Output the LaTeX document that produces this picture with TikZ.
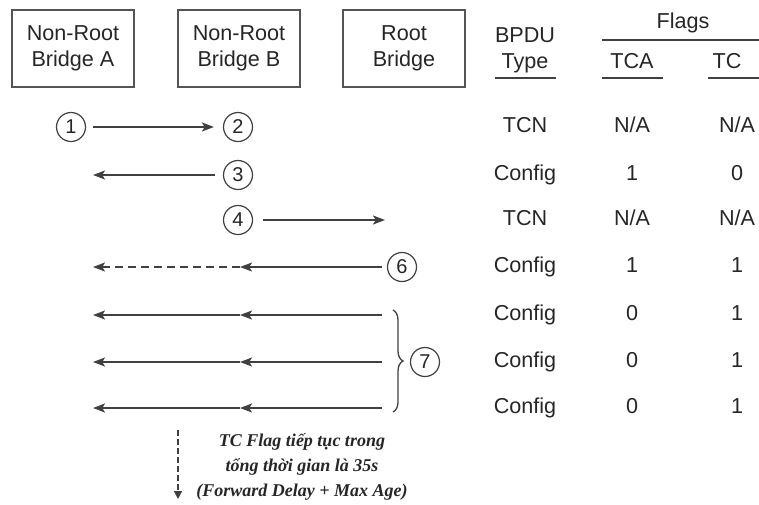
\documentclass[tikz,border=0pt]{standalone}
\usepackage{fontspec}
\setmainfont{Liberation Sans}
\newfontfamily\notefont{Liberation Serif}
\usepackage{tikz}
\usetikzlibrary{arrows.meta,positioning,calc,decorations.pathreplacing}
\definecolor{stpdark}{HTML}{262626}
\definecolor{stpline}{HTML}{404040}
\definecolor{stpbox}{HTML}{555555}

\begin{document}
\begin{tikzpicture}[x=0.5pt, y=-0.5pt,
  bBox/.style  ={rectangle, draw=stpbox, line width=0.75pt, minimum width=61pt, minimum height=38.5pt, inner sep=0pt, align=center, font=\fontsize{10.8}{13}\selectfont, text=stpdark},
  hText/.style ={font=\fontsize{10.8}{13}\selectfont, text=stpdark, inner sep=0pt, anchor=mid},
  hRule/.style ={stpline, line width=0.75pt},
  mNum/.style  ={circle, draw=stpline, line width=0.6pt, minimum size=14.5pt, inner sep=0pt, font=\fontsize{10}{12}\selectfont, text=stpdark},
  mArrow/.style={stpline, line width=0.9pt, -{Stealth[length=6pt, width=4.5pt, inset=1.4pt]}},
  mDash/.style ={mArrow, dash pattern=on 4pt off 2.5pt},
]
% picture measured in pixels of the 759x504 frame
\useasboundingbox (0,0) rectangle (759,504);

% bridges
\node[bBox] (brA) at (73,48.5)  {Non-Root\\Bridge A};
\node[bBox] (brB) at (239,48.5) {Non-Root\\Bridge B};
\node[bBox] (brR) at (404,48.5) {Root\\Bridge};

% table header
\node[hText] (bpdu)  at (525,37) {BPDU};
\node[hText] (type)  at (525,63) {Type};
\node[hText] (flags) at (683,23) {Flags};
\node[hText] (tcaH)  at (632,63) {TCA};
\node[hText] (tcH)   at (727,63) {TC};
\draw[hRule] (495,78) -- (556,78);
\draw[hRule] (602,40) -- (759,40);
\draw[hRule] (602,78) -- (663,78);
\draw[hRule] (708,78) -- (759,78);

% table rows: type, TCA, TC
\foreach \r/\y/\ty/\ca/\tc in {1/127/TCN/{N/A}/{N/A}, 2/175/Config/1/0, 3/220/TCN/{N/A}/{N/A},
  4/267/Config/1/1, 5/315/Config/0/1, 6/362/Config/0/1, 7/408/Config/0/1} {
  \node[hText] (ty\r) at (525,\y) {\ty};
  \node[hText] (ca\r) at (632,\y) {\ca};
  \node[hText] (tc\r) at (737,\y) {\tc};
}

% step numbers
\node[mNum] (n1) at (71,127)  {1};
\node[mNum] (n2) at (238,127) {2};
\node[mNum] (n3) at (238,175) {3};
\node[mNum] (n4) at (238,220) {4};
\node[mNum] (n6) at (402,267) {6};
\node[mNum] (n7) at (425,362) {7};

% free ends of the messages
\coordinate (l3) at (93,175);
\coordinate (r4) at (385,220);
\coordinate (m6) at (240,267);
\coordinate (l6) at (93,267);

\draw[mArrow, shorten <=3.5pt, shorten >=4.5pt] (n1) -- (n2);
\draw[mArrow, shorten <=4pt] (n3) -- (l3);
\draw[mArrow, shorten <=5pt] (n4) -- (r4);
\draw[mArrow, shorten <=2.5pt] (n6) -- (m6);
\draw[mDash] (m6) -- (l6);

% repeated config BPDUs (7)
\foreach \k/\y in {a/315, b/362, c/408} {
  \coordinate (s\k) at (382,\y);
  \coordinate (m\k) at (240,\y);
  \coordinate (l\k) at (93,\y);
  \draw[mArrow] (s\k) -- (m\k);
  \draw[mArrow] (m\k) -- (l\k);
}
\coordinate (bt) at (393,310);
\coordinate (bb) at (393,412);
\draw[stpline, line width=0.65pt, decorate, decoration={brace, amplitude=5pt}] (bt) -- (bb);

% timer note
\coordinate (dt) at (178,430);
\coordinate (db) at (178,499);
\draw[stpline, line width=0.65pt, dash pattern=on 3pt off 1.5pt, -{Triangle[length=4pt, width=4pt]}] (dt) -- (db);
\node[font=\notefont\fontsize{9}{12.5}\selectfont\bfseries\itshape, text=stpdark, align=center] (note) at (302,467)
  {TC Flag tiếp tục trong\\tổng thời gian là 35s\\(Forward Delay + Max Age)};
\end{tikzpicture}
\end{document}
